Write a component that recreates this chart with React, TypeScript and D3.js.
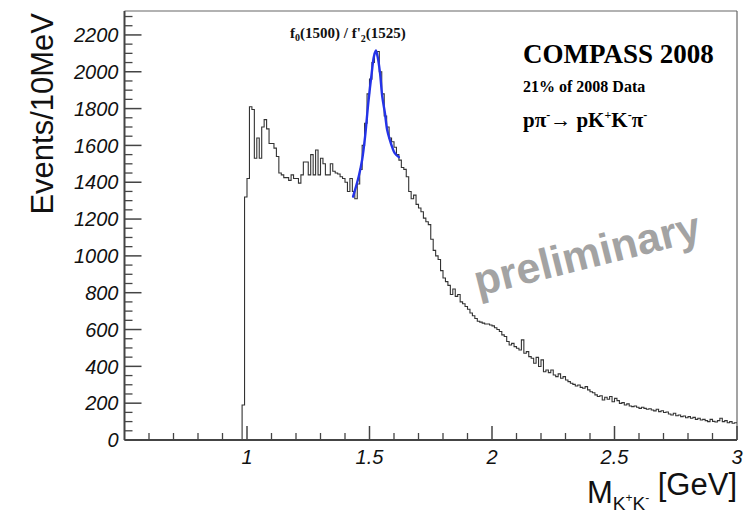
import React from "react";
import * as d3 from "d3";

// ---- data ----
const binStart = 0.98; // GeV, low edge of first filled bin
const binWidth = 0.01; // GeV (10 MeV)
const counts: number[] = [
  190, 1320, 1420, 1810, 1795, 1530, 1640, 1530, 1700, 1740, // 0.98-1.07
  1690, 1610, 1610, 1585, 1540, 1450, 1440, 1425, 1425, 1410, // 1.08-1.17
  1440, 1420, 1420, 1395, 1440, 1510, 1510, 1440, 1550, 1440, // 1.18-1.27
  1575, 1440, 1530, 1500, 1440, 1440, 1500, 1460, 1450, 1445, // 1.28-1.37
  1430, 1420, 1400, 1350, 1420, 1350, 1310, 1390, 1470, 1600, // 1.38-1.47
  1720, 1880, 1960, 2050, 2100, 2110, 2000, 1880, 1760, 1700, // 1.48-1.57
  1640, 1620, 1590, 1550, 1520, 1480, 1470, 1430, 1350, 1310, // 1.58-1.67
  1330, 1280, 1260, 1240, 1205, 1185, 1170, 1090, 1030, 1000, // 1.68-1.77
  980, 920, 880, 860, 840, 790, 820, 780, 790, 750,           // 1.78-1.87
  740, 725, 710, 690, 675, 660, 645, 640, 635, 630,           // 1.88-1.97
  630, 625, 620, 610, 600, 589, 571, 562, 535, 516,           // 1.98-2.07
  525, 507, 498, 489, 544, 471, 480, 453, 444, 417,           // 2.08-2.17
  449, 399, 435, 371, 380, 366, 380, 353, 344, 359,           // 2.18-2.27
  335, 344, 326, 317, 308, 302, 293, 299, 286, 281,           // 2.28-2.37
  290, 272, 262, 257, 245, 236, 240, 217, 232, 221,           // 2.38-2.47
  236, 208, 226, 214, 199, 203, 190, 196, 185, 181,           // 2.48-2.57
  185, 178, 172, 178, 172, 167, 170, 163, 158, 167,           // 2.58-2.67
  154, 159, 149, 152, 141, 136, 145, 132, 136, 127,           // 2.68-2.77
  130, 121, 127, 118, 123, 112, 118, 109, 112, 105,           // 2.78-2.87
  100, 112, 101, 98, 105, 118, 100, 105, 94, 100,             // 2.88-2.97
  91, 94,                                                     // 2.98-2.99
];

const fitMass: number[] = [1.433, 1.456, 1.47, 1.482, 1.495, 1.509, 1.518, 1.526, 1.533, 1.543, 1.552, 1.563, 1.572, 1.583, 1.594, 1.603, 1.62];
const fitValue: number[] = [1322, 1431, 1522, 1648, 1830, 1993, 2083, 2116, 2083, 1993, 1866, 1775, 1685, 1630, 1585, 1558, 1536];

const xDomain = [0.5, 3];
const yDomain = [0, 2330];
const xMajorTicks = [1, 1.5, 2, 2.5, 3];
const xMajorLabels = ["1", "1.5", "2", "2.5", "3"];
const xMinorTicks = [0.6, 0.7, 0.8, 0.9, 1.1, 1.2, 1.3, 1.4, 1.6, 1.7, 1.8, 1.9, 2.1, 2.2, 2.3, 2.4, 2.6, 2.7, 2.8, 2.9];
const yMajorTicks = [0, 200, 400, 600, 800, 1000, 1200, 1400, 1600, 1800, 2000, 2200];
const yMinorTicks = [50, 100, 150, 250, 300, 350, 450, 500, 550, 650, 700, 750, 850, 900, 950, 1050, 1100, 1150, 1250, 1300, 1350, 1450, 1500, 1550, 1650, 1700, 1750, 1850, 1900, 1950, 2050, 2100, 2150, 2250, 2300];

export default function App() {
  const W = 753, H = 515;
  const left = 124.5, right = 737, top = 11, bottom = 440;
  const x = d3.scaleLinear().domain(xDomain).range([left, right]);
  const y = d3.scaleLinear().domain(yDomain).range([bottom, top]);

  const pts: [number, number][] = [[binStart, 0]];
  counts.forEach((c, i) => pts.push([binStart + i * binWidth, c]));
  pts.push([binStart + counts.length * binWidth, counts[counts.length - 1]]);
  const histPath = d3.line<[number, number]>().x(d => x(d[0])).y(d => y(d[1])).curve(d3.curveStepAfter)(pts) || "";

  const fitPts: [number, number][] = fitMass.map((m, i) => [m, fitValue[i]]);
  const fitPath = d3.line<[number, number]>().x(d => x(d[0])).y(d => y(d[1])).curve(d3.curveCatmullRom)(fitPts) || "";

  const tickFont = "'Liberation Sans', Arial, sans-serif";
  const serif = "'Liberation Serif', 'Times New Roman', serif";
  const axisColor = "#444";

  return (
    <svg width={W} height={H} style={{ position: "absolute", left: 0, top: 0, background: "#fff" }}>
      <rect x={0} y={0} width={W} height={H} fill="#fff" />
      {/* frame */}
      <line x1={left} y1={top} x2={right} y2={top} stroke="#666" strokeWidth={1.2} />
      <line x1={right} y1={top} x2={right} y2={bottom} stroke="#666" strokeWidth={1.2} />

      {/* histogram */}
      <path d={histPath} fill="none" stroke="#333" strokeWidth={1.1} />
      {/* fit */}
      <path d={fitPath} fill="none" stroke="#2433e8" strokeWidth={2.4} strokeLinecap="round" />

      {/* axes */}
      <line x1={left} y1={top} x2={left} y2={bottom} stroke={axisColor} strokeWidth={2} />
      <line x1={left} y1={bottom} x2={right} y2={bottom} stroke={axisColor} strokeWidth={2} />
      {yMajorTicks.map(t => (
        <line key={"ym" + t} x1={left} x2={left + 17} y1={y(t)} y2={y(t)} stroke={axisColor} strokeWidth={1.5} />
      ))}
      {yMinorTicks.map(t => (
        <line key={"yn" + t} x1={left} x2={left + 8} y1={y(t)} y2={y(t)} stroke={axisColor} strokeWidth={1.3} />
      ))}
      {xMajorTicks.map(t => (
        <line key={"xm" + t} x1={x(t)} x2={x(t)} y1={bottom} y2={bottom - 14} stroke={axisColor} strokeWidth={1.5} />
      ))}
      {xMinorTicks.map(t => (
        <line key={"xn" + t} x1={x(t)} x2={x(t)} y1={bottom} y2={bottom - 7} stroke={axisColor} strokeWidth={1.3} />
      ))}
      {yMajorTicks.map(t => (
        <text key={"yl" + t} x={left - 6} y={y(t)} dy="0.36em" textAnchor="end" fontFamily={tickFont} fontStyle="italic" fontSize={20} fill="#111">{t}</text>
      ))}
      {xMajorTicks.map((t, i) => (
        <text key={"xl" + t} x={x(t)} y={bottom + 24} textAnchor="middle" fontFamily={tickFont} fontStyle="italic" fontSize={20} fill="#111">{xMajorLabels[i]}</text>
      ))}

      {/* axis titles */}
      <text transform="translate(53,13) rotate(-90)" textAnchor="end" fontFamily={tickFont} fontSize={31} fill="#111">Events/10MeV</text>
      <text x={737} y={503} textAnchor="end" fontFamily={tickFont} fontSize={31} fill="#111">
        M<tspan fontSize={19} dy={7}>K</tspan><tspan fontSize={12} dy={-8}>+</tspan><tspan fontSize={19} dy={8}>K</tspan><tspan fontSize={12} dy={-8}>-</tspan><tspan dy={-7}> [GeV]</tspan>
      </text>

      {/* annotations */}
      <text x={290} y={38} fontFamily={serif} fontWeight="bold" fontSize={15} fill="#111">
        f<tspan fontSize={10} dy={3}>0</tspan><tspan dy={-3}>(1500) / f'</tspan><tspan fontSize={10} dy={4}>2</tspan><tspan dy={-4}>(1525)</tspan>
      </text>
      <text x={523} y={63} fontFamily={serif} fontWeight="bold" fontSize={27} fill="#000">COMPASS 2008</text>
      <text x={523} y={92} fontFamily={serif} fontWeight="bold" fontSize={16} fill="#000">21% of 2008 Data</text>
      <text x={523} y={127} fontFamily={serif} fontWeight="bold" fontSize={21} fill="#000">
        pπ<tspan fontSize={12} dy={-8}>-</tspan><tspan dy={8}>→ pK</tspan><tspan fontSize={12} dy={-8}>+</tspan><tspan dy={8}>K</tspan><tspan fontSize={12} dy={-8}>-</tspan><tspan dy={8}>π</tspan><tspan fontSize={12} dy={-8}>-</tspan>
      </text>
      <text transform="translate(478,296) rotate(-14)" fontFamily={tickFont} fontWeight="bold" fontSize={43} fill="#a3a3a3">preliminary</text>
    </svg>
  );
}
